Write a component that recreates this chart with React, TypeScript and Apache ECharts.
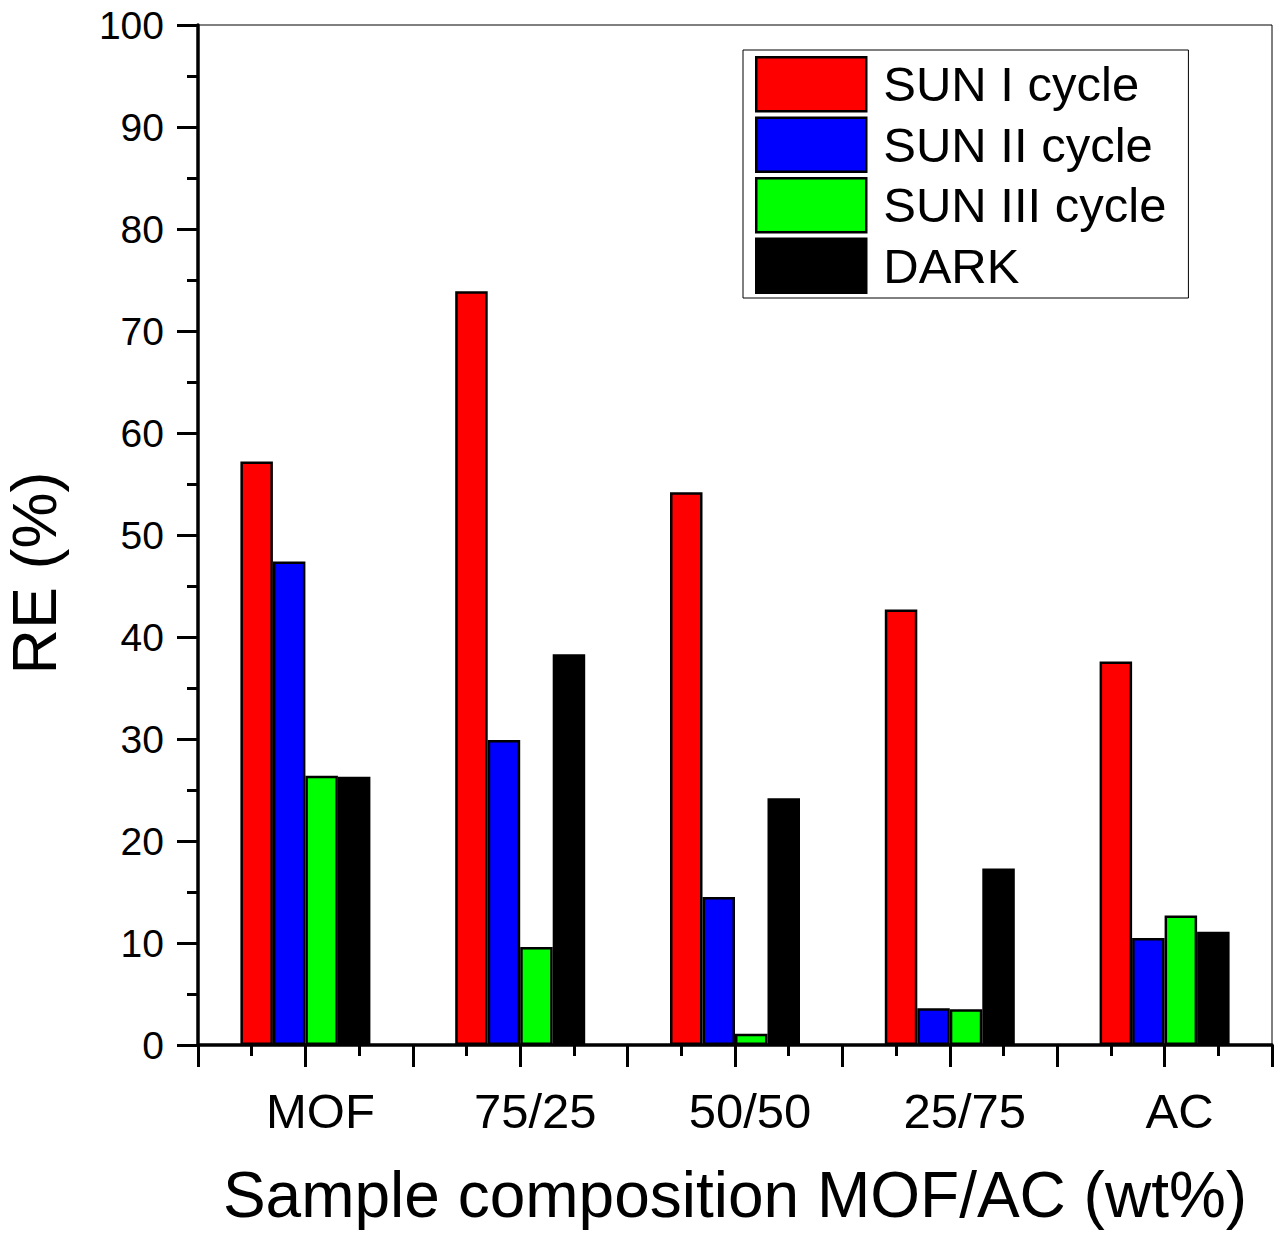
import { useEffect, useRef } from 'react';
import * as echarts from 'echarts';

const categories = ['MOF', '75/25', '50/50', '25/75', 'AC'];
const seriesNames = ['SUN I cycle', 'SUN II cycle', 'SUN III cycle', 'DARK'];
const sun1 = [57.2, 73.9, 54.2, 42.7, 37.6];
const sun2 = [47.4, 29.9, 14.5, 3.6, 10.5];
const sun3 = [26.4, 9.6, 1.1, 3.5, 12.7];
const dark = [26.3, 38.3, 24.2, 17.3, 11.1];
const colors = ['#ff0000', '#0000ff', '#00ff00', '#000000'];

const FONT = "'Liberation Sans', Arial, sans-serif";

export default function App() {
  const ref = useRef<HTMLDivElement>(null);

  useEffect(() => {
    if (!ref.current) return;
    const chart = echarts.init(ref.current, null, { renderer: 'svg' });
    const values = [sun1, sun2, sun3, dark];

    chart.setOption({
      animation: false,
      backgroundColor: '#fff',
      textStyle: { fontFamily: FONT, color: '#000' },
      grid: {
        left: 198,
        right: 9,
        top: 25,
        bottom: 195,
        show: true,
        borderColor: '#000',
        borderWidth: 1,
        containLabel: false,
        outerBoundsMode: 'none',
      },
      legend: {
        orient: 'vertical',
        left: 743,
        top: 50,
        padding: [6, 22, 4, 12],
        itemWidth: 110,
        itemHeight: 54,
        itemGap: 4,
        borderColor: '#000',
        borderWidth: 1,
        icon: 'rect',
        itemStyle: { borderColor: '#000', borderWidth: 2.5 },
        textStyle: {
          fontSize: 49,
          lineHeight: 54,
          color: '#000',
          fontFamily: FONT,
          padding: [0, 0, 0, 12],
        },
        data: seriesNames,
      },
      xAxis: [
        {
          type: 'category',
          data: categories,
          axisLine: { show: false },
          axisTick: { show: false },
          axisLabel: {
            fontSize: 49,
            color: '#000',
            margin: 41,
            padding: [0, 0, 0, 30],
          },
          name: 'Sample composition MOF/AC (wt%)',
          nameLocation: 'middle',
          nameGap: 118,
          nameTextStyle: { fontSize: 64, color: '#000' },
        },
        {
          type: 'value',
          position: 'bottom',
          min: 0.5,
          max: 5.5,
          interval: 0.5,
          axisLine: { show: true, onZero: false, lineStyle: { color: '#000', width: 3.5 } },
          axisTick: { show: true, length: 22, lineStyle: { color: '#000', width: 3 } },
          minorTick: { show: true, splitNumber: 2, length: 11, lineStyle: { color: '#000', width: 3 } },
          axisLabel: { show: false },
          splitLine: { show: false },
        },
      ],
      yAxis: {
        type: 'value',
        min: 0,
        max: 100,
        interval: 10,
        axisLine: { show: true, lineStyle: { color: '#000', width: 3.5 } },
        axisTick: { show: true, length: 21, lineStyle: { color: '#000', width: 3 } },
        minorTick: { show: true, splitNumber: 2, length: 11, lineStyle: { color: '#000', width: 3 } },
        splitLine: { show: false },
        axisLabel: { fontSize: 39, color: '#000', margin: 34 },
        name: 'RE (%)',
        nameLocation: 'middle',
        nameRotate: 90,
        nameGap: 132,
        nameTextStyle: { fontSize: 63, lineHeight: 64, color: '#000', padding: [0, 76, 0, 0] },
      },
      series: values.map((v, i) => ({
        name: seriesNames[i],
        type: 'bar',
        xAxisIndex: 0,
        data: v,
        barWidth: 32.5,
        barGap: '0%',
        itemStyle: { color: colors[i], borderColor: '#000', borderWidth: 2.5 },
      })),
    });

    return () => chart.dispose();
  }, []);

  return (
    <div
      ref={ref}
      style={{ position: 'absolute', left: 0, top: 0, width: 1281, height: 1240 }}
    />
  );
}
